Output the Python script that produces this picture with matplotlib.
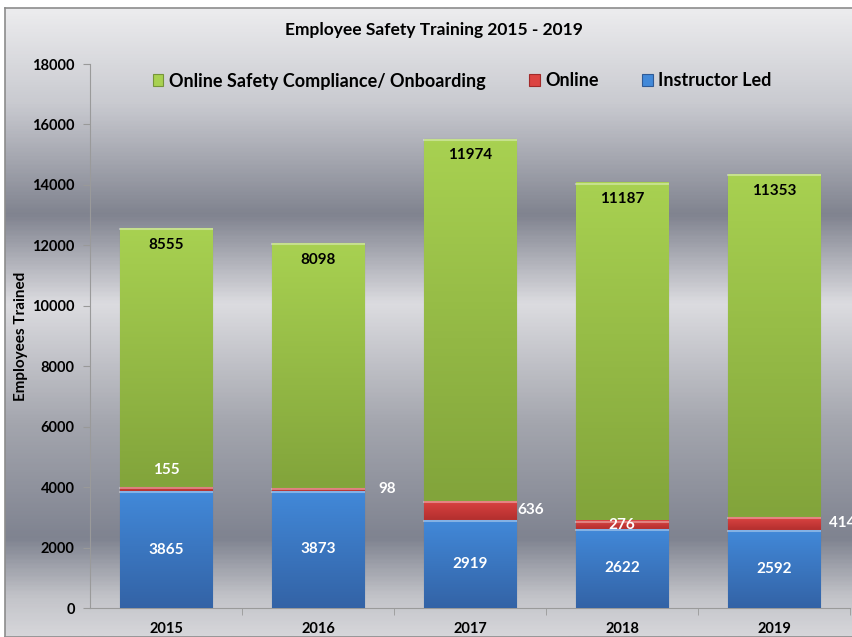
import matplotlib.pyplot as plt
import numpy as np
from matplotlib.colors import LinearSegmentedColormap

years = ["2015", "2016", "2017", "2018", "2019"]
instructor_led = [3865, 3873, 2919, 2622, 2592]
online = [155, 98, 636, 276, 414]
compliance = [8555, 8098, 11974, 11187, 11353]

# where the small red labels sit (placement, gap in points)
online_label_pos = [("above", 12), ("right", 10), ("right", 1),
                    ("center", 0), ("right", 6)]

plt.rcParams['font.family'] = ['Lato', 'DejaVu Sans']
plt.rcParams['font.weight'] = 'bold'

fig = plt.figure(figsize=(8.53, 6.37), dpi=100)
fig.patch.set_facecolor("white")

# chart area background gradient
bg = fig.add_axes([5 / 853, 0, 1, 1 - 8 / 637], zorder=0)
stops = [(0.0, "#ececee"), (0.15, "#c9cad0"), (0.327, "#80838f"),
         (0.47, "#dcdce0"), (0.66, "#a4a6ae"), (0.845, "#7f8390"),
         (0.94, "#c3c4c9"), (1.0, "#d6d6da")]
bg_cmap = LinearSegmentedColormap.from_list("bg", stops)
bg.imshow(np.linspace(0, 1, 400).reshape(-1, 1), cmap=bg_cmap, aspect="auto",
          extent=(0, 1, 0, 1))
bg.set_xlim(0, 1)
bg.set_ylim(0, 1)
bg.set_xticks([])
bg.set_yticks([])
for s in bg.spines.values():
    s.set_color("#8c8c8c")
    s.set_linewidth(1.2)

ax = fig.add_axes([90 / 853, 1 - 608 / 637, 760 / 853, 544 / 637], zorder=1)
ax.patch.set_alpha(0)

x = np.arange(len(years))
w = 0.61
bottoms2 = np.array(instructor_led) + np.array(online)

series = [
    (instructor_led, 0, "#4289d9", "#3363a6", "#2f5a96", "Instructor Led"),
    (online, np.array(instructor_led), "#dc4442", "#b32f2e", "#a22a2a", "Online"),
    (compliance, bottoms2, "#a8d151", "#82a43b", "#76953a",
     "Online Safety Compliance/ Onboarding"),
]
handles = {}
for vals, bot, c_top, c_bot, edge, name in series:
    bars = ax.bar(x, vals, w, bottom=bot, color=c_top, edgecolor=edge,
                  linewidth=0.8, zorder=3, label=name)
    cm = LinearSegmentedColormap.from_list(name, [c_bot, c_top])
    for b in bars:
        x0, y0 = b.get_x(), b.get_y()
        im = ax.imshow(np.linspace(0, 1, 100).reshape(-1, 1), cmap=cm,
                       origin="lower", aspect="auto", zorder=3.5,
                       extent=(x0, x0 + b.get_width(), y0, y0 + b.get_height()))
        im.set_clip_path(b)
        # highlight line on top of segment
        ax.plot([x0 + 0.005, x0 + b.get_width() - 0.005],
                [y0 + b.get_height() - 40, y0 + b.get_height() - 40],
                color="white", alpha=0.35, lw=1.5, zorder=4)
    handles[name] = bars

ax.set_xlim(-0.5, 4.5)
ax.set_ylim(0, 18000)
ax.set_yticks(np.arange(0, 18001, 2000))
ax.set_xticks(x)
ax.set_xticklabels(years, fontsize=10.5, fontweight="bold")
ax.set_xticks(np.arange(0.5, 4.6, 1), minor=True)
ax.tick_params(axis="x", which="major", length=0, pad=10)
ax.tick_params(axis="x", which="minor", length=5, color="#999999")
ax.tick_params(axis="y", length=5, color="#999999", labelsize=10.5, pad=6)
for lab in ax.get_yticklabels():
    lab.set_fontweight("bold")
for s in ["top", "right"]:
    ax.spines[s].set_visible(False)
ax.spines["left"].set_color("#9a9a9a")
ax.spines["bottom"].set_color("#9a9a9a")
ax.set_ylabel("Employees Trained", fontsize=11, fontweight="bold", labelpad=3)

# value labels
for i in range(len(years)):
    ax.text(x[i], instructor_led[i] / 2, str(instructor_led[i]), ha="center",
            va="center", color="white", fontsize=11, fontweight="bold", zorder=6)
    top = bottoms2[i] + compliance[i]
    ax.annotate(str(compliance[i]), (x[i], top), xytext=(0, -12),
                textcoords="offset points", ha="center", va="center",
                color="black", fontsize=11, fontweight="bold", zorder=6)
    mid = instructor_led[i] + online[i] / 2
    pos, gap = online_label_pos[i]
    if pos == "above":
        xy, off, ha = (x[i], bottoms2[i]), (0, gap), "center"
    elif pos == "right":
        xy, off, ha = (x[i] + w / 2, mid), (gap, 0), "left"
    else:
        xy, off, ha = (x[i], mid), (0, 0), "center"
    ax.annotate(str(online[i]), xy, xytext=off, textcoords="offset points",
                ha=ha, va="center", color="white", fontsize=11,
                fontweight="bold", zorder=6, annotation_clip=False)

fig.text(434 / 853, 1 - 30 / 637, "Employee Safety Training 2015 - 2019",
         ha="center", va="center", fontsize=12.5, fontweight="bold")

order = ["Online Safety Compliance/ Onboarding", "Online", "Instructor Led"]
leg = fig.legend([handles[n] for n in order], order, loc="center",
                 bbox_to_anchor=(462 / 853, 1 - 81 / 637), ncol=3, frameon=False,
                 fontsize=13, handlelength=0.6, handleheight=0.6,
                 handletextpad=0.3, columnspacing=2.4)
for t in leg.get_texts():
    t.set_fontweight("bold")

fig.savefig("out.png", dpi=100)
